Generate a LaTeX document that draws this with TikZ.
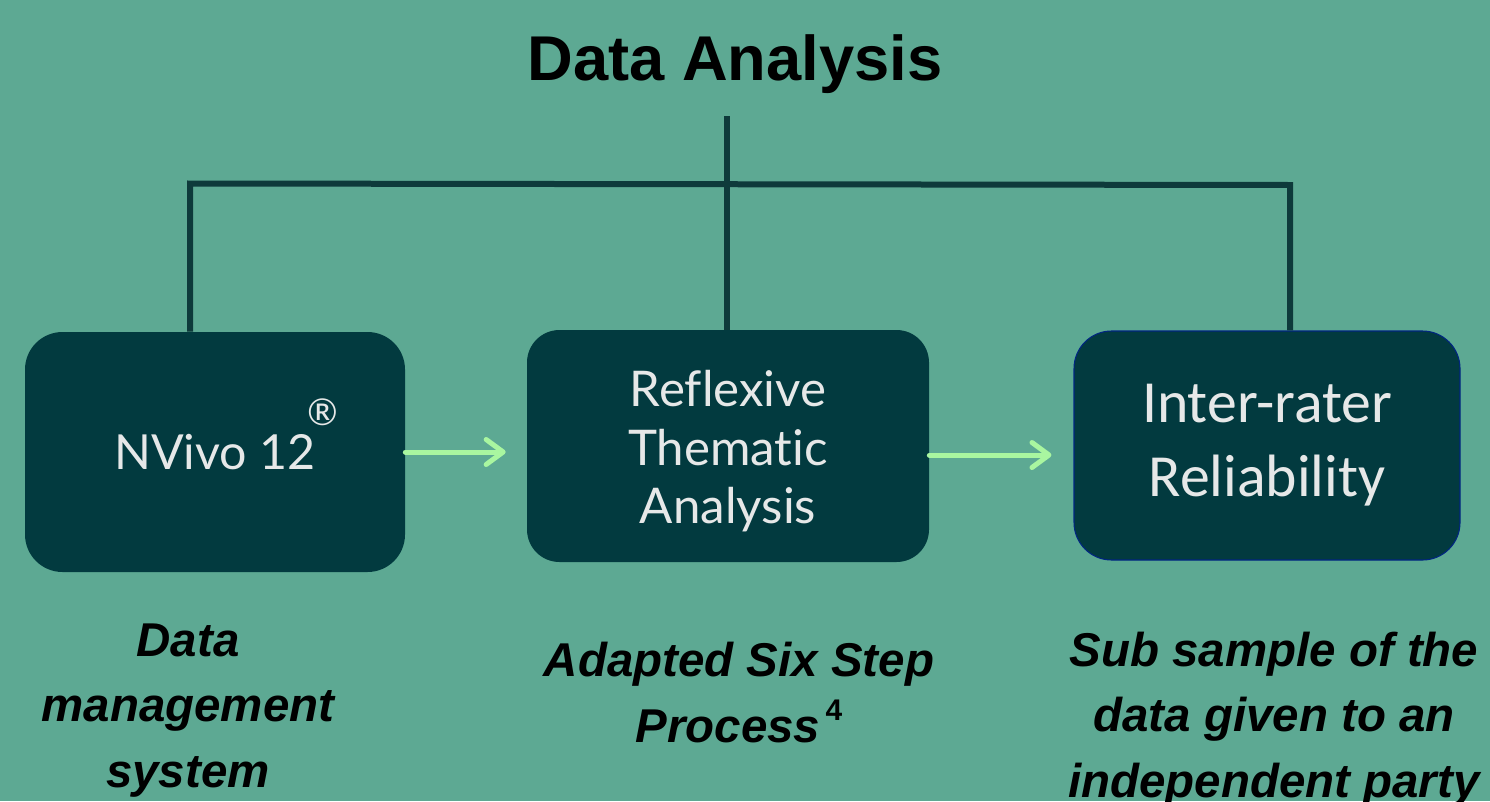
\documentclass[tikz,border=0pt]{standalone}
\usepackage{fontspec}
\setmainfont{Liberation Sans}
\newfontfamily\boxfont[Ligatures=NoCommon]{Lato}
\newfontfamily\calfont{Carlito}
\usetikzlibrary{arrows.meta, positioning}

\definecolor{bgteal}{HTML}{5DA993}
\definecolor{boxteal}{HTML}{023A3F}
\definecolor{linedark}{HTML}{0E3A3B}
\definecolor{arrowgreen}{HTML}{A9F6A0}
\definecolor{boxtext}{HTML}{E6E8E8}

\begin{document}
\begin{tikzpicture}[
    >={Straight Barb[length=0.34cm, width=0.5cm, line cap=round, line join=round]},
    stepbox/.style={rectangle, fill=boxteal, rounded corners=0.75cm, text=boxtext, align=center, inner sep=0pt},
    link/.style={draw=linedark, line width=0.12cm},
    flow/.style={->, draw=arrowgreen, line width=0.1cm, line cap=round},
    note/.style={font=\fontsize{27pt}{37pt}\selectfont\bfseries\itshape, align=center, inner sep=0pt, anchor=base}
  ]
    \fill[bgteal] (0,0) rectangle (29.8,-16.02);
    \clip (0,0) rectangle (29.8,-16.02);

    \node[font=\fontsize{36pt}{40pt}\selectfont\bfseries, anchor=base] (title) at (14.7,-1.6) {Data Analysis};

    \node[stepbox, minimum width=7.6cm, minimum height=4.8cm, font=\boxfont\fontsize{27.5pt}{33pt}\selectfont] (nvivo) at (4.3,-9.04)
      {NVivo 12\rlap{\smash{\raisebox{25pt}{\kern-4.8pt\fontsize{21pt}{21pt}\selectfont ®}}}};
    \node[stepbox, minimum width=8.04cm, minimum height=4.64cm, rounded corners=0.65cm, font=\boxfont\fontsize{28pt}{33.2pt}\selectfont] (rta) at (14.56,-8.92)
      {\rule{0pt}{0.95em}Reflexive\\Thematic\\Analysis};
    \node[stepbox, minimum width=7.72cm, minimum height=4.58cm, draw=blue!35!boxteal, line width=0.6pt, font=\calfont\fontsize{34pt}{42pt}\selectfont] (irr) at (25.34,-8.91)
      {Inter-rater\\Reliability};

    % bus joining the title to the three boxes
    \coordinate (top) at (14.54,-2.32);
    \coordinate (busL) at (3.8,-3.67);
    \coordinate (busR) at (25.8,-3.7);
    \draw[link] (top) -- (top |- rta.north);
    \draw[link, line join=miter] (busL |- nvivo.north) -- (busL) -- (busR) -- (busR |- irr.north);

    \draw[flow, shorten >=0.42cm] (nvivo.east) -- (nvivo.east -| rta.west);
    \draw[flow, shorten >=0.44cm] ([yshift=-0.18cm]rta.east) -- ([yshift=-0.18cm]rta.east -| irr.west);

    \node[note] (dms) at (3.76,-15.74) {Data\\management\\system};
    \node[note] (six) at (14.78,-14.84) {Adapted Six Step\\Process\kern3pt\raisebox{12.5pt}{\fontsize{17pt}{17pt}\selectfont\upshape 4}};
    \node[note] (sub) at (25.48,-15.94) {Sub sample of the\\data given to an\\independent party};
\end{tikzpicture}
\end{document}
